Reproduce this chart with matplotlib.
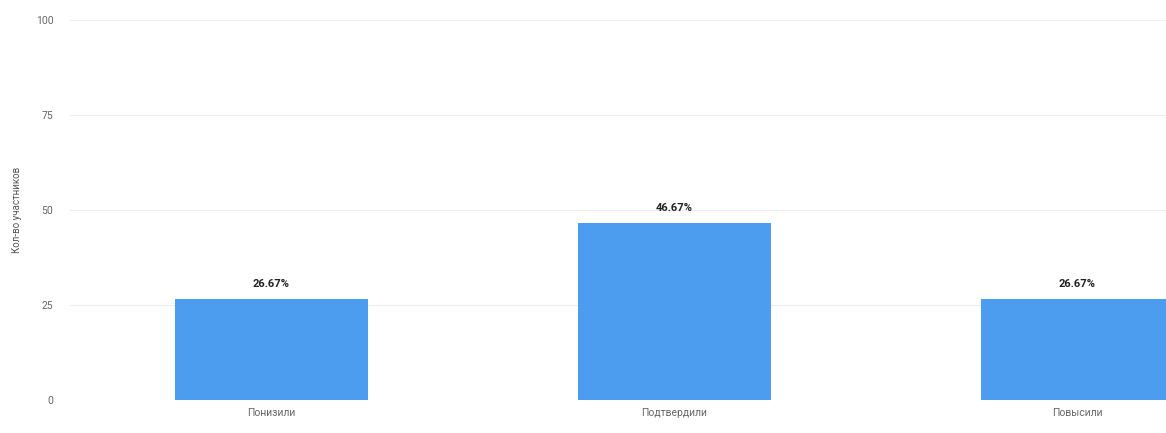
import matplotlib.pyplot as plt

categories = ['Понизили', 'Подтвердили', 'Повысили']
values = [26.67, 46.67, 26.67]
value_labels = ['26.67%', '46.67%', '26.67%']
yticks = [0, 25, 50, 75, 100]

plt.rcParams['font.family'] = ['Roboto', 'DejaVu Sans']

fig = plt.figure(figsize=(11.66, 4.33), dpi=100)
ax = fig.add_axes([70 / 1166, 33 / 433, 1096 / 1166, 380 / 433])

x = range(len(categories))
bars = ax.bar(x, values, width=0.48, color='#4C9CF0', zorder=2)
for b, lab in zip(bars, value_labels):
    ax.text(b.get_x() + b.get_width() / 2, b.get_height() + 2.5, lab,
            ha='center', va='bottom', fontsize=8, fontweight='bold', color='#222222')

ax.set_xlim(-0.5, 2.22)
ax.set_ylim(0, 100)
ax.set_yticks(yticks)
ax.set_xticks(list(x))
ax.set_xticklabels(categories)
ax.tick_params(axis='both', length=0, labelsize=7.5, labelcolor='#666666')
ax.tick_params(axis='y', pad=12)
ax.tick_params(axis='x', pad=6)
ax.grid(axis='y', color='#eeeeee', linewidth=0.8, zorder=0)
for s in ax.spines.values():
    s.set_visible(False)
ax.set_ylabel('Кол-во участников', fontsize=7, color='#555555', labelpad=10)

fig.savefig('out.png', dpi=100)
